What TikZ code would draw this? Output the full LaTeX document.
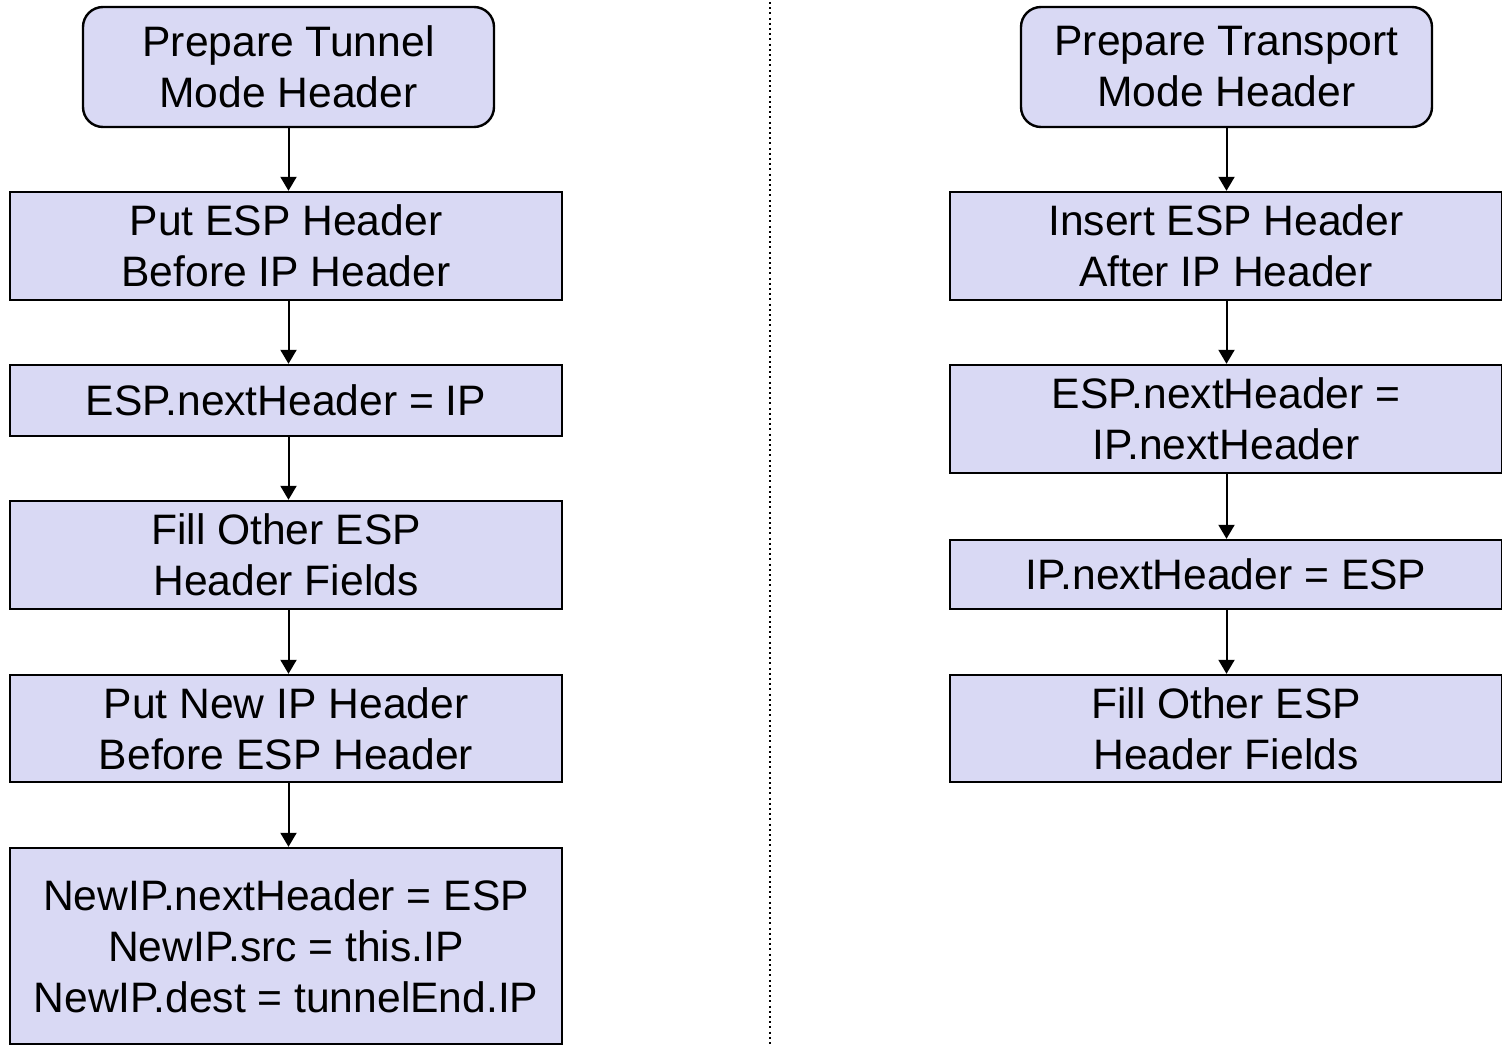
\documentclass[tikz,border=0pt]{standalone}
\usepackage{fontspec}
\setmainfont{Liberation Sans}
\usetikzlibrary{arrows.meta}
\definecolor{boxfill}{RGB}{217,217,244}
\tikzset{
  box/.style={draw=black, line width=2.4pt, fill=boxfill, align=center, inner sep=0pt,
    minimum width=552pt, font=\fontsize{42.6}{51}\selectfont},
  rbox/.style={box, rounded corners=20pt, minimum width=411pt, minimum height=120pt},
  flow/.style={-{Triangle[length=14pt,width=16pt]}, line width=2pt},
  sep/.style={line width=2pt, dash pattern=on 2pt off 3.2pt}
}
\begin{document}
\begin{tikzpicture}[x=1pt,y=-1pt]
\useasboundingbox (0,0) rectangle (1502,1046);
\clip (0,0) rectangle (1502,1046);
% left column
\node[rbox] (a1) at (288.5,67) {Prepare Tunnel\\Mode Header};
\node[box, minimum height=108pt] (a2) at (286,246) {Put ESP Header\\Before IP Header};
\node[box, minimum height=71pt] (a3) at (286,400.5) {ESP.nextHeader = IP};
\node[box, minimum height=108pt] (a4) at (286,555) {Fill Other ESP\\Header Fields};
\node[box, minimum height=107pt] (a5) at (286,728.5) {Put New IP Header\\Before ESP Header};
\node[box, minimum height=196pt] (a6) at (286,946) {NewIP.nextHeader = ESP\\NewIP.src = this.IP\\NewIP.dest = tunnelEnd.IP};
% right column
\node[rbox] (b1) at (1226.5,67) {Prepare Transport\\Mode Header};
\node[box, minimum height=108pt] (b2) at (1226,246) {Insert ESP Header\\After IP Header};
\node[box, minimum height=108pt] (b3) at (1226,419) {ESP.nextHeader =\\IP.nextHeader};
\node[box, minimum height=69pt] (b4) at (1226,574.5) {IP.nextHeader = ESP};
\node[box, minimum height=107pt] (b5) at (1226,728.5) {Fill Other ESP\\Header Fields};
% connectors
\draw[flow] (a1.south) -- (a2.north -| a1.south);
\draw[flow] (a2.south -| a1.south) -- (a3.north -| a1.south);
\draw[flow] (a3.south -| a1.south) -- (a4.north -| a1.south);
\draw[flow] (a4.south -| a1.south) -- (a5.north -| a1.south);
\draw[flow] (a5.south -| a1.south) -- (a6.north -| a1.south);
\draw[flow] (b1.south) -- (b2.north -| b1.south);
\draw[flow] (b2.south -| b1.south) -- (b3.north -| b1.south);
\draw[flow] (b3.south -| b1.south) -- (b4.north -| b1.south);
\draw[flow] (b4.south -| b1.south) -- (b5.north -| b1.south);
% separator
\coordinate (s1) at (770,2);
\coordinate (s2) at (770,1046);
\draw[sep] (s1) -- (s2);
\end{tikzpicture}
\end{document}
